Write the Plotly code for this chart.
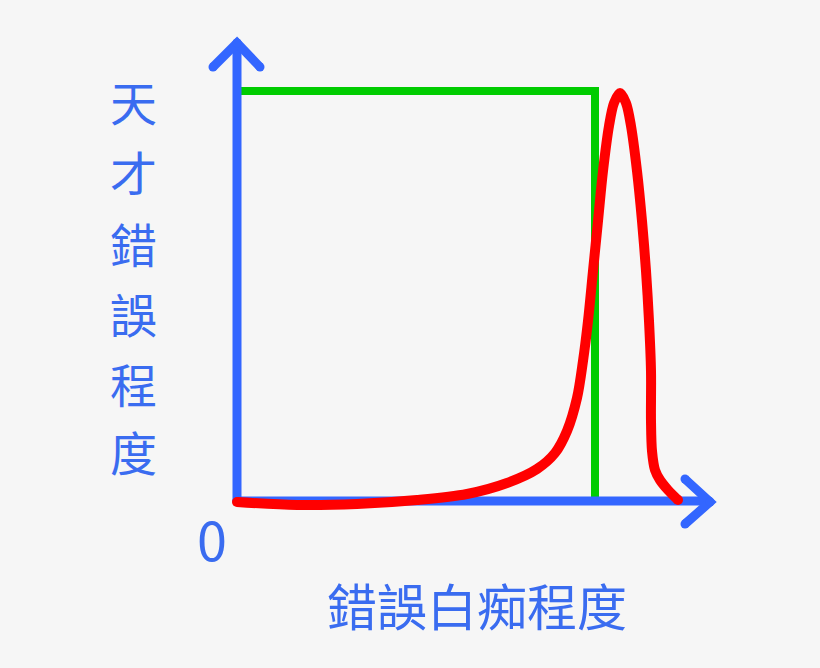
import plotly.graph_objects as go

# values measured in picture units, origin at the axes corner
y_axis_x = [0, 0]
y_axis_y = [0, 458]
y_arrow_x = [-24, 0, 23]
y_arrow_y = [434, 458, 434]
x_axis_x = [0, 472]
x_axis_y = [0, 0]
x_arrow_x = [448, 473, 448]
x_arrow_y = [22, -1, -23]

genius_x = [0, 358, 358]
genius_y = [410, 410, 0]

idiot_x = [0, 60, 120, 180, 230, 270, 300, 318, 330, 340, 346, 351, 356, 361,
           366, 372, 377, 383, 389, 394, 400, 405, 409, 412, 414, 414, 415, 418,
           423, 431, 441]
idiot_y = [-1, -4, -3, 1, 7, 18, 32, 48, 70, 103, 140, 180, 230, 280,
           330, 375, 398, 408, 398, 375, 330, 280, 230, 180, 130, 80, 50, 31,
           21, 11, 1]

y_title = ["天", "才", "錯", "誤", "程", "度"]
y_title_pos = [401, 331, 259, 189, 119, 51]
x_title = "錯誤白痴程度"
origin_label = "0"

BLUE = "#3366ff"
TEXT_BLUE = "#3a6cf0"
GREEN = "#00cc00"
RED = "#ff0000"
FONT = "Noto Sans CJK TC"


def stroke(xs, ys, color, w, shape="linear", ends_only=False):
    mx = [xs[0], xs[-1]] if ends_only else xs
    my = [ys[0], ys[-1]] if ends_only else ys
    return [
        go.Scatter(x=xs, y=ys, mode="lines", hoverinfo="skip",
                   line=dict(color=color, width=w, shape=shape, smoothing=0.9)),
        go.Scatter(x=mx, y=my, mode="markers", hoverinfo="skip",
                   marker=dict(color=color, size=w, line=dict(width=0))),
    ]


fig = go.Figure()
for t in stroke(genius_x, genius_y, GREEN, 8):
    fig.add_trace(t)
for xs, ys in [(y_axis_x, y_axis_y), (y_arrow_x, y_arrow_y),
               (x_axis_x, x_axis_y), (x_arrow_x, x_arrow_y)]:
    for t in stroke(xs, ys, BLUE, 9):
        fig.add_trace(t)
for t in stroke(idiot_x, idiot_y, RED, 10, shape="spline", ends_only=True):
    fig.add_trace(t)

for ch, yy in zip(y_title, y_title_pos):
    fig.add_annotation(x=-104, y=yy, text=ch, showarrow=False,
                       font=dict(family=FONT, size=47, color=TEXT_BLUE))
fig.add_annotation(x=240, y=-103, text=x_title, showarrow=False,
                   font=dict(family=FONT, size=50, color=TEXT_BLUE))
fig.add_annotation(x=-25, y=-36, text=origin_label, showarrow=False,
                   font=dict(family=FONT, size=54, color=TEXT_BLUE))

fig.update_layout(
    width=820, height=668,
    margin=dict(l=0, r=0, t=0, b=0),
    paper_bgcolor="#f6f6f6", plot_bgcolor="#f6f6f6",
    showlegend=False,
    xaxis=dict(range=[-237, 583], visible=False, fixedrange=True),
    yaxis=dict(range=[-167, 501], visible=False, fixedrange=True),
)
fig.write_html("out.html", config={"displayModeBar": False},
               post_script="document.body.style.margin='0';"
                           "document.body.style.background='#f6f6f6';")
